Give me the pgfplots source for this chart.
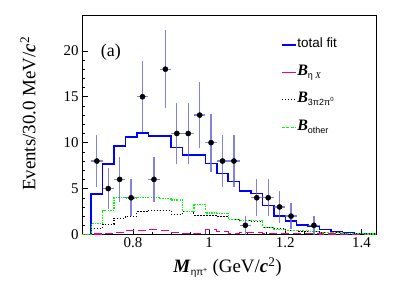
\documentclass[border=0pt]{standalone}
\usepackage{pgfplots}
\pgfplotsset{compat=1.18}
\usepackage{fontspec}
\setmainfont{Liberation Serif}
\newfontfamily\lsans{Liberation Sans}
\newcommand{\sub}[2][9]{\raisebox{-0.35ex}{\lsans\fontsize{#1}{#1}\selectfont #2}}
\definecolor{errc}{RGB}{100,100,215}
\definecolor{lgreen}{RGB}{0,255,0}
\begin{document}
\begin{tikzpicture}
\useasboundingbox (-82bp,-58.5bp) rectangle (327bp,234.5bp);
\begin{axis}[
  at={(0,0)}, anchor=south west,
  scale only axis, width=294.7bp, height=219.5bp,
  xmin=0.666, xmax=1.44, ymin=0, ymax=23.9,
  xtick={0.8,1,1.2,1.4}, ytick={0,5,10,15,20},
  minor x tick num=3, minor y tick num=4,
  tick pos=left, tick align=inside,
  major tick length=6bp, minor tick length=3bp,
  /pgf/number format/assume math mode=true,
  ticklabel style={font=\fontsize{15}{15}\selectfont},
  xticklabel style={/pgf/number format/fixed},
  axis line style={line width=0.6pt},
  every tick/.style={line width=0.5pt, black},
  xlabel={\fontsize{19}{19}\selectfont\textbf{\textit{M}}\sub[10]{ηπ\textsuperscript{+}} (GeV/\textbf{\textit{c}}\textsuperscript{2})},
  ylabel={\fontsize{19}{19}\selectfont Events/30.0 MeV/\textbf{\textit{c}}\textsuperscript{2}},
  every axis x label/.style={at={(axis description cs:0.494,-0.175)}, anchor=base},
  every axis y label/.style={at={(axis description cs:-0.183,0.55)}, rotate=90, anchor=center},
  legend style={draw=none, fill=none, at={(axis description cs:0.665,0.91)}, anchor=north west,
    nodes={inner sep=1bp, text height=10bp, text depth=4bp, anchor=west}, row sep=11.5bp,
    font=\lsans\fontsize{13.5}{13.5}\selectfont},
  legend cell align=left,
]
\addplot[const plot, blue, line width=1.5pt,
  legend image code/.code={\draw[blue, solid, line width=1.2pt] (0bp,0bp) -- (14bp,0bp);}] coordinates {
(0.666,0)(0.69,4.4)(0.72,7.7)(0.75,9.65)(0.78,10.6)(0.81,11.05)(0.84,10.75)(0.87,10.75)(0.90,9.5)(0.93,8.65)(0.96,8.65)(0.99,7.75)(1.02,6.65)(1.05,5.75)(1.08,4.75)(1.11,4.45)(1.14,3.15)(1.17,2.0)(1.20,1.45)(1.23,1.05)(1.26,0.85)(1.29,0.55)(1.32,0.3)(1.35,0.2)(1.38,0.1)(1.41,0.05)(1.44,0.05)};
\addlegendentry{total fit}
\addplot[const plot, magenta, line width=1.1pt, dash pattern=on 8bp off 4bp,
  legend image code/.code={\draw[magenta, solid, line width=1.2pt] (0bp,0bp) -- (14bp,0bp);}] coordinates {
(0.666,0)(0.69,0.05)(0.72,0.1)(0.75,0.2)(0.78,0.45)(0.81,0.45)(0.84,0.5)(0.87,0.45)(0.90,0.2)(0.93,0.1)(0.96,0.15)(0.99,0.5)(1.02,0.3)(1.05,0.15)(1.08,0.2)(1.11,0.2)(1.14,0.1)(1.17,0.15)(1.20,0.1)(1.23,0.1)(1.26,0.1)(1.29,0.05)(1.32,0.05)(1.35,0.05)(1.38,0.03)(1.41,0.02)(1.44,0.02)};
\addlegendentry{\fontsize{16}{16}\selectfont\rmfamily\textbf{\textit{B}}\sub{η \rmfamily\textit{X}}}
\addplot[const plot, black, line width=1.1pt, dash pattern=on 1.5bp off 1.5bp,
  legend image code/.code={\draw[black, line width=1.1pt, dash pattern=on 1.5bp off 1.5bp] (0bp,0bp) -- (14bp,0bp);}] coordinates {
(0.666,0)(0.69,0.7)(0.72,1.1)(0.75,1.75)(0.78,2.0)(0.81,2.5)(0.84,2.65)(0.87,2.65)(0.90,2.2)(0.93,2.5)(0.96,2.1)(0.99,2.1)(1.02,2.0)(1.05,1.6)(1.08,1.5)(1.11,1.4)(1.14,0.8)(1.17,0.65)(1.20,0.45)(1.23,0.35)(1.26,0.3)(1.29,0.25)(1.32,0.2)(1.35,0.12)(1.38,0.08)(1.41,0.05)(1.44,0.05)};
\addlegendentry{\fontsize{16}{16}\selectfont\rmfamily\textbf{\textit{B}}\sub{3π2π\textsuperscript{0}}}
\addplot[const plot, lgreen, line width=1.2pt, dash pattern=on 2bp off 1.2bp on 0.8bp off 1.2bp,
  legend image code/.code={
    \fill[lgreen, draw=none] (0bp,-0.7bp) rectangle (3bp,0.7bp);
    \fill[lgreen, draw=none] (4.5bp,-0.7bp) rectangle (7.5bp,0.7bp);
    \fill[lgreen, draw=none] (9bp,-0.7bp) rectangle (12bp,0.7bp);
    \fill[lgreen, draw=none] (13bp,-0.7bp) rectangle (14bp,0.7bp);}] coordinates {
(0.666,0)(0.69,1.2)(0.72,2.65)(0.75,4.0)(0.78,3.9)(0.81,4.0)(0.84,4.0)(0.87,3.9)(0.90,3.75)(0.93,2.5)(0.96,3.3)(0.99,2.35)(1.02,2.3)(1.05,1.65)(1.08,1.5)(1.11,1.5)(1.14,0.8)(1.17,0.56)(1.20,0.45)(1.23,0.4)(1.26,0.3)(1.29,0.25)(1.32,0.2)(1.35,0.15)(1.38,0.1)(1.41,0.05)(1.44,0.05)};
\addlegendentry{\fontsize{16}{16}\selectfont\rmfamily\textbf{\textit{B}}\sub{other}}
\addplot[only marks, mark=*, mark size=2.6bp, black, forget plot,
  error bars/.cd, x dir=both, x explicit, y dir=both, y explicit,
  error mark=none, error bar style={errc, line width=1.3pt, opacity=0.8}]
  table[x=x, y=y, x error=ex, y error=ey] {
x y ex ey
0.705 8 0.015 2.828
0.735 5 0.015 2.236
0.765 6 0.015 2.449
0.795 4 0.015 2
0.825 15 0.015 3.873
0.855 6 0.015 2.449
0.885 18 0.015 4.243
0.915 11 0.015 3.317
0.945 11 0.015 3.317
0.975 13 0.015 3.606
1.005 10 0.015 3.162
1.035 8 0.015 2.828
1.065 8 0.015 2.828
1.095 1 0.015 1
1.125 4 0.015 2
1.155 4 0.015 2
1.185 3 0.015 1.732
1.215 2 0.015 1.414
1.275 1 0.015 1
};
\node[font=\fontsize{18}{18}\selectfont, anchor=center] at (axis cs:0.742,19.9) {(a)};
\end{axis}
\end{tikzpicture}
\end{document}
